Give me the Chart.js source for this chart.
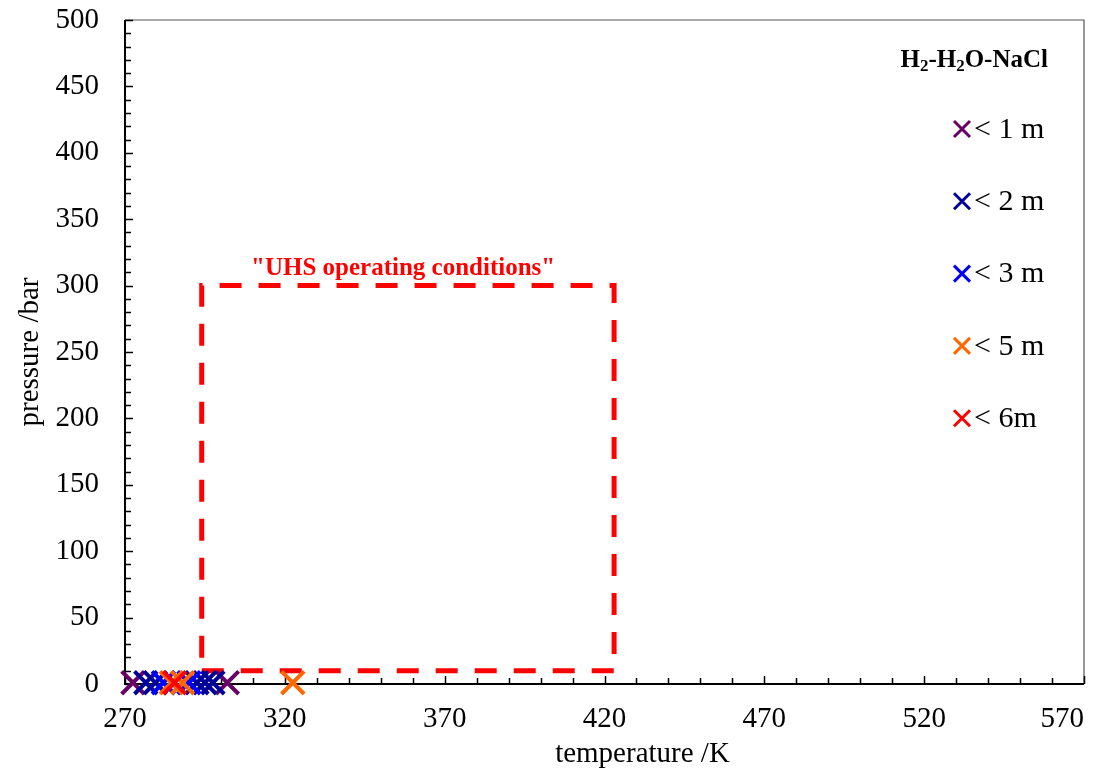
<!DOCTYPE html>
<html>
<head>
<meta charset="utf-8">
<script src="https://cdn.jsdelivr.net/npm/chart.js@4.4.1/dist/chart.umd.min.js"></script>
<style>
  html, body { margin: 0; padding: 0; background: #fff; }
  #wrap { width: 1112px; height: 771px; }
</style>
</head>
<body>
<div id="wrap"><canvas id="chart"></canvas></div>
<script>
// series labels and colours
const seriesNames = ['< 1 m', '< 2 m', '< 3 m', '< 5 m', '< 6m'];
const seriesColors = ['#660066', '#000099', '#0000ff', '#ff6600', '#ff0000'];

// temperature (K) and pressure (bar) of each point
const tempLt1 = [272.5, 302];
const presLt1 = [1, 1];
const tempLt2 = [276.5, 279.5, 292.5, 295, 297.5];
const presLt2 = [1, 1, 1, 1, 1];
const tempLt3 = [282, 290];
const presLt3 = [1, 1];
const tempLt5 = [284.5, 288, 322.5];
const presLt5 = [1, 1, 1];
const tempLt6 = [285.5];
const presLt6 = [1];

// "UHS operating conditions" window
const boxTemp = [294, 423, 423, 294, 294];
const boxPres = [10, 10, 300, 300, 10];

// axis ticks
const xTicks = [270, 320, 370, 420, 470, 520, 570];
const yTicks = [0, 50, 100, 150, 200, 250, 300, 350, 400, 450, 500];

const allTemps = [tempLt1, tempLt2, tempLt3, tempLt5, tempLt6];
const allPres = [presLt1, presLt2, presLt3, presLt5, presLt6];

const FONT = "'Liberation Serif', 'Times New Roman', serif";

function toPoints(xs, ys) {
  return xs.map((x, i) => ({ x: x, y: ys[i] }));
}

const datasets = seriesNames.map((name, i) => ({
  label: name,
  data: toPoints(allTemps[i], allPres[i]),
  showLine: false,
  pointStyle: 'crossRot',
  pointRadius: 16,
  pointHoverRadius: 16,
  pointBorderWidth: 4,
  pointHoverBorderWidth: 4,
  borderColor: seriesColors[i],
  backgroundColor: seriesColors[i],
  order: seriesNames.length - 1 - i,
  clip: false
}));

datasets.push({
  label: 'box',
  data: toPoints(boxTemp, boxPres),
  showLine: true,
  borderColor: '#ff0000',
  borderWidth: 5,
  borderDash: [22, 17],
  pointRadius: 0,
  fill: false,
  order: 10,
  clip: false
});

// frame + inward tick marks
const framePlugin = {
  id: 'frame',
  beforeDatasetsDraw(chart) {
    const { ctx, chartArea: a, scales } = chart;
    ctx.save();
    ctx.strokeStyle = '#555';
    ctx.lineWidth = 1.2;
    ctx.beginPath();
    ctx.moveTo(a.left, a.top);
    ctx.lineTo(a.right, a.top);
    ctx.lineTo(a.right, a.bottom);
    ctx.stroke();

    ctx.strokeStyle = '#000';
    ctx.lineWidth = 2;
    ctx.beginPath();
    ctx.moveTo(a.left, a.top);
    ctx.lineTo(a.left, a.bottom);
    ctx.lineTo(a.right, a.bottom);
    ctx.stroke();

    ctx.lineWidth = 1.5;
    ctx.beginPath();
    for (let v = 270; v <= 570; v += 10) {
      const px = Math.round(scales.x.getPixelForValue(v)) + 0.5;
      const len = (v - 270) % 50 === 0 ? 8 : 6;
      ctx.moveTo(px, a.bottom);
      ctx.lineTo(px, a.bottom - len);
    }
    for (let v = 0; v <= 500; v += 10) {
      const py = Math.round(scales.y.getPixelForValue(v)) + 0.5;
      const len = v % 50 === 0 ? 8 : 6;
      ctx.moveTo(a.left, py);
      ctx.lineTo(a.left + len, py);
    }
    ctx.stroke();

    // x axis title sits a little right of centre in the original
    ctx.fillStyle = '#000';
    ctx.font = '29px ' + FONT;
    ctx.textAlign = 'center';
    ctx.textBaseline = 'middle';
    ctx.fillText('temperature /K', (a.left + a.right) / 2 + 38, chart.height - 17);
    ctx.restore();
  }
};

// box caption and the legend on the right
const notesPlugin = {
  id: 'notes',
  afterDatasetsDraw(chart) {
    const { ctx, chartArea: a, scales } = chart;
    ctx.save();

    ctx.fillStyle = '#ff0000';
    ctx.font = 'bold 25px ' + FONT;
    ctx.textAlign = 'center';
    ctx.textBaseline = 'middle';
    ctx.fillText('"UHS operating conditions"',
      scales.x.getPixelForValue(357), scales.y.getPixelForValue(312.5));

    // legend title with subscripts
    const parts = [['H', false], ['2', true], ['-H', false], ['2', true], ['O-NaCl', false]];
    const big = 'bold 25px ' + FONT;
    const small = 'bold 17px ' + FONT;
    let w = 0;
    parts.forEach(p => { ctx.font = p[1] ? small : big; w += ctx.measureText(p[0]).width; });
    let tx = a.right - 36 - w;
    const ty = a.top + 47;
    ctx.fillStyle = '#000';
    ctx.textAlign = 'left';
    ctx.textBaseline = 'alphabetic';
    parts.forEach(p => {
      ctx.font = p[1] ? small : big;
      ctx.fillText(p[0], tx, p[1] ? ty + 4 : ty);
      tx += ctx.measureText(p[0]).width;
    });

    // entries
    const cx = a.right - 122;
    ctx.font = '30px ' + FONT;
    ctx.textBaseline = 'middle';
    seriesNames.forEach((name, i) => {
      const cy = a.top + 109 + i * 72.3;
      const r = 8;
      ctx.strokeStyle = seriesColors[i];
      ctx.lineWidth = 3;
      ctx.beginPath();
      ctx.moveTo(cx - r, cy - r);
      ctx.lineTo(cx + r, cy + r);
      ctx.moveTo(cx + r, cy - r);
      ctx.lineTo(cx - r, cy + r);
      ctx.stroke();
      ctx.fillStyle = '#000';
      ctx.fillText(name, cx + 12, cy + 1);
    });
    ctx.restore();
  }
};

new Chart(document.getElementById('chart'), {
  type: 'scatter',
  data: { datasets: datasets },
  options: {
    responsive: true,
    maintainAspectRatio: false,
    animation: false,
    layout: { padding: { left: 0, top: 17, right: 28, bottom: 0 } },
    plugins: {
      legend: { display: false },
      tooltip: { enabled: false }
    },
    scales: {
      x: {
        type: 'linear',
        min: 270,
        max: 570,
        grid: { display: false, drawTicks: false },
        border: { display: false },
        afterBuildTicks: s => { s.ticks = xTicks.map(v => ({ value: v })); },
        afterFit: s => { s.height = 87; s.paddingLeft = 0; s.paddingRight = 0; },
        ticks: {
          color: '#000', font: { family: FONT, size: 29 }, padding: 18, maxRotation: 0,
          // last label is pulled inside the frame in the original
          callback: v => v === 570 ? '570\u2003\u2002' : String(v)
        },
        title: { display: false }
      },
      y: {
        type: 'linear',
        min: 0,
        max: 500,
        grid: { display: false, drawTicks: false },
        border: { display: false },
        afterBuildTicks: s => { s.ticks = yTicks.map(v => ({ value: v })); },
        afterFit: s => { s.width = 125; s.paddingTop = 0; s.paddingBottom = 0; },
        ticks: { color: '#000', font: { family: FONT, size: 29 }, padding: 26 },
        title: { display: true, text: 'pressure /bar', color: '#000', font: { family: FONT, size: 29 }, padding: { top: 13, bottom: 0 } }
      }
    }
  },
  plugins: [framePlugin, notesPlugin]
});
</script>
</body>
</html>
